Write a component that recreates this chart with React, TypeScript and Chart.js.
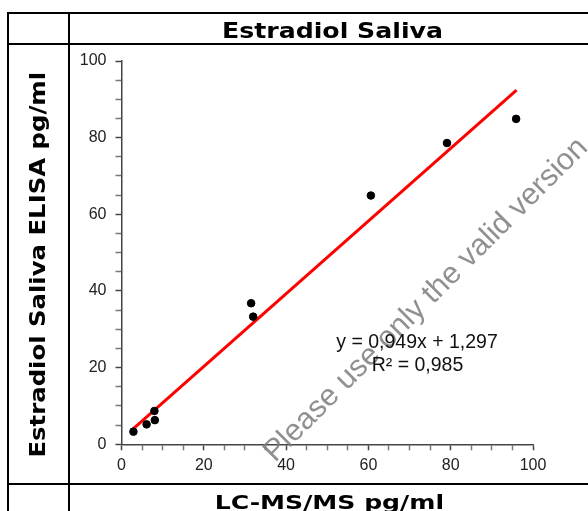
import React, { useEffect, useRef } from "react";
import { Chart, registerables } from "chart.js";

Chart.register(...registerables);

// Measured data (LC-MS/MS vs ELISA, pg/ml)
const lcmsValues = [2.9, 6.1, 8.0, 8.1, 31.5, 32.0, 60.6, 79.1, 95.9];
const elisaValues = [3.3, 5.2, 8.7, 6.3, 36.8, 33.3, 64.9, 78.6, 84.9];
// Trend line end points
const trendX = [2.7, 96.0];
const trendY = [3.9, 92.4];
const equationLines = ["y = 0,949x + 1,297", "R² = 0,985"];
const titleText = "Estradiol Saliva";
const yTitleText = "Estradiol Saliva ELISA pg/ml";
const xTitleText = "LC-MS/MS pg/ml";
const watermarkText = "Please use only the valid version";

const TICK_FONT = { family: "'Liberation Sans', Arial, sans-serif", size: 16 };

const overlayPlugin = {
  id: "overlayText",
  afterDraw(chart: any) {
    const ctx = chart.ctx as CanvasRenderingContext2D;
    // watermark
    ctx.save();
    ctx.translate(426, 300);
    ctx.rotate(-Math.PI / 4);
    ctx.font = "30.5px 'Liberation Sans', Arial, sans-serif";
    ctx.fillStyle = "rgba(125,125,125,0.85)";
    ctx.textAlign = "center";
    ctx.textBaseline = "middle";
    ctx.fillText(watermarkText, 0, 0);
    ctx.restore();
    // equation
    ctx.save();
    ctx.font = "19.5px 'Liberation Sans', Arial, sans-serif";
    ctx.fillStyle = "#111";
    ctx.textAlign = "center";
    ctx.textBaseline = "middle";
    ctx.fillText(equationLines[0], 417, 343);
    ctx.fillText(equationLines[1], 417.5, 366);
    ctx.restore();
  },
};

function ChartCanvas() {
  const ref = useRef<HTMLCanvasElement | null>(null);
  useEffect(() => {
    if (!ref.current) return;
    const points = lcmsValues.map((x, i) => ({ x, y: elisaValues[i] }));
    const trend = trendX.map((x, i) => ({ x, y: trendY[i] }));
    const tickColor = (c: any) => (c.tick && c.tick.value % 20 === 0 ? "#444" : "#777");
    const chart = new Chart(ref.current, {
      type: "scatter",
      data: {
        datasets: [
          {
            data: points,
            backgroundColor: "#000",
            borderColor: "#000",
            pointRadius: 3.8,
            pointHoverRadius: 3.8,
            order: 0,
          },
          {
            type: "line",
            data: trend,
            borderColor: "#ff0000",
            borderWidth: 3,
            pointRadius: 0,
            fill: false,
            order: 1,
          } as any,
        ],
      },
      options: {
        animation: false,
        responsive: false,
        events: [],
        layout: { padding: { left: 69, right: 55, top: 61, bottom: 36.7 } },
        plugins: { legend: { display: false }, tooltip: { enabled: false } },
        scales: {
          x: {
            type: "linear",
            min: 0,
            max: 100,
            afterFit: (s: any) => {
              s.height = 30;
            },
            ticks: {
              stepSize: 5,
              autoSkip: false,
              maxRotation: 0,
              padding: 6,
              color: "#222",
              font: TICK_FONT,
              callback: (v: any) => (Number(v) % 20 === 0 ? String(v) : ""),
            },
            grid: {
              drawOnChartArea: false,
              drawTicks: true,
              tickLength: 6,
              tickWidth: 1.5,
              tickColor,
            },
            border: { color: "#444", width: 1.5 },
          },
          y: {
            type: "linear",
            min: 0,
            max: 100,
            afterFit: (s: any) => {
              s.width = 52.5;
            },
            ticks: {
              stepSize: 5,
              autoSkip: false,
              padding: 9,
              color: "#222",
              font: TICK_FONT,
              callback: (v: any) => (Number(v) % 20 === 0 ? String(v) : ""),
            },
            grid: {
              drawOnChartArea: false,
              drawTicks: true,
              tickLength: 6,
              tickWidth: 1.5,
              tickColor,
            },
            border: { color: "#444", width: 1.5 },
          },
        },
      },
      plugins: [overlayPlugin],
    });
    return () => chart.destroy();
  }, []);
  return (
    <canvas
      ref={ref}
      width={588}
      height={511}
      style={{ position: "absolute", left: 0, top: 0, width: 588, height: 511 }}
    />
  );
}

const boldFont = "'DejaVu Sans', Verdana, sans-serif";

export default function App() {
  const line = (s: React.CSSProperties): React.CSSProperties => ({
    position: "absolute",
    background: "#000",
    ...s,
  });
  const cell = (s: React.CSSProperties): React.CSSProperties => ({
    position: "absolute",
    display: "flex",
    alignItems: "center",
    justifyContent: "center",
    fontFamily: boldFont,
    fontWeight: "bold",
    color: "#000",
    whiteSpace: "nowrap",
    ...s,
  });
  return (
    <div
      style={{
        position: "fixed",
        left: 0,
        top: 0,
        width: 588,
        height: 511,
        overflow: "hidden",
        background: "#fff",
      }}
    >
      <ChartCanvas />
      {/* table lines */}
      <div style={line({ left: 7, top: 12, width: 600, height: 2 })} />
      <div style={line({ left: 7, top: 43, width: 600, height: 2 })} />
      <div style={line({ left: 7, top: 483, width: 600, height: 2 })} />
      <div style={line({ left: 7, top: 12, width: 2, height: 520 })} />
      <div style={line({ left: 68, top: 12, width: 2, height: 520 })} />
      {/* title */}
      <div style={cell({ left: 69, width: 526, top: 15, height: 31, fontSize: 22 })}>
        <span style={{ display: "inline-block", transform: "scaleX(1.146)" }}>{titleText}</span>
      </div>
      {/* y title */}
      <div
        style={cell({
          left: 38 - 220,
          top: 265 - 15,
          width: 440,
          height: 30,
          fontSize: 21,
          transform: "rotate(-90deg)",
        })}
      >
        <span style={{ display: "inline-block", transform: "scaleX(1.16)" }}>{yTitleText}</span>
      </div>
      {/* x title */}
      <div style={cell({ left: 69, width: 520, top: 486, height: 31, fontSize: 20 })}>
        <span style={{ display: "inline-block", transform: "scaleX(1.255)" }}>{xTitleText}</span>
      </div>
    </div>
  );
}
